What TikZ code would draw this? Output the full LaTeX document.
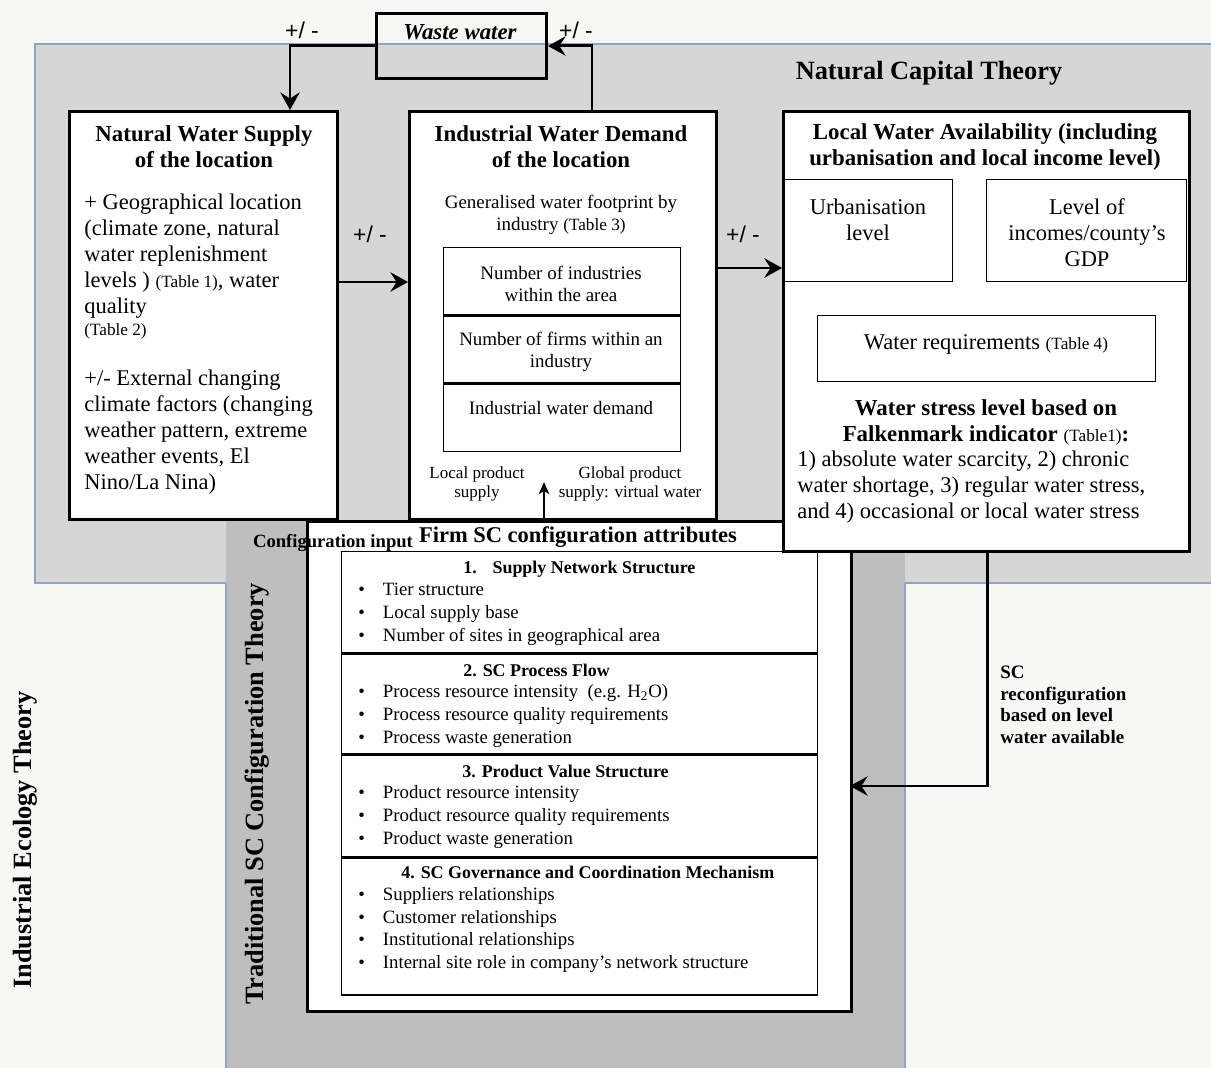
\documentclass[tikz,border=0pt]{standalone}
\usepackage{fontspec}
\setmainfont{Liberation Serif}
\newfontfamily\signfont{Liberation Sans}
\usetikzlibrary{arrows.meta}

\definecolor{pagebg}{HTML}{F7F7F5}
\definecolor{capgrey}{HTML}{D6D6D6}
\definecolor{scgrey}{HTML}{BEBEBE}
\definecolor{edgeblue}{HTML}{8DA5C9}

\newcommand{\tabref}[1]{{\fontsize{9.8}{11}\selectfont(#1)}}
\newcommand{\itm}{\makebox[14pt][l]{\textbullet}}

\tikzset{
  bigbox/.style={draw, line width=1.7pt, fill=white, inner sep=0pt, anchor=north west},
  cellbox/.style={draw, line width=0.8pt, inner sep=0pt, anchor=north west},
  conn/.style={line width=1.7pt, -{Stealth[length=10pt,width=11pt,inset=3.5pt]}},
  cfgconn/.style={line width=1.1pt, -{Stealth[length=7pt,width=6pt,inset=2pt]}},
  headtxt/.style={font=\bfseries\fontsize{13}{14.7}\selectfont, align=center, inner sep=0pt},
  bodytxt/.style={font=\fontsize{12.8}{14.7}\selectfont, align=left, inner sep=0pt},
  celltxt/.style={font=\fontsize{10.8}{12.5}\selectfont, align=center, inner sep=0pt},
  notetxt/.style={font=\fontsize{9.7}{10.8}\selectfont, align=center, inner sep=0pt},
  sectxt/.style={font=\bfseries\fontsize{10.2}{12}\selectfont, anchor=west, inner sep=0pt},
  itemtxt/.style={font=\fontsize{10.7}{13}\selectfont, align=left, anchor=west, inner sep=0pt},
  signtxt/.style={font=\signfont\fontsize{13}{14}\selectfont, inner sep=0pt},
  theorytxt/.style={font=\bfseries\fontsize{15}{17}\selectfont, inner sep=0pt}
}

\begin{document}
\begin{tikzpicture}[x=0.02cm, y=-0.02cm]
\useasboundingbox (0,0) rectangle (1211,1068);
\fill[pagebg] (0,0) rectangle (1211,1068);

% theory areas
\fill[capgrey] (35,44) rectangle (1211,583);
\draw[edgeblue, line width=0.6pt] (1211,44) -- (35,44) -- (35,583) -- (1211,583);
\fill[scgrey] (226,520) rectangle (905,1068);
\draw[edgeblue, line width=0.6pt] (226,583) -- (226,1068) (905,583) -- (905,1068);
\node[theorytxt] (capital) at (929,73) {Natural Capital Theory};
\node[theorytxt, rotate=90] (ecology) at (25,840) {Industrial Ecology Theory};
\node[theorytxt, rotate=90] (tradsc) at (257,794) {Traditional SC Configuration Theory};

% main boxes
\node[bigbox, fill=none, minimum width=3.4cm, minimum height=1.3cm] (waste) at (375,12) {};
\node[bigbox, minimum width=5.36cm, minimum height=8.16cm] (nws) at (68,110) {};
\node[bigbox, minimum width=6.14cm, minimum height=8.16cm] (iwd) at (408,110) {};
\node[bigbox, minimum width=10.88cm, minimum height=9.8cm] (firm) at (306,520) {};
\node[bigbox, minimum width=8.12cm, minimum height=8.8cm] (lwa) at (782,110) {};

\node[font=\bfseries\itshape\fontsize{13}{14}\selectfont] (wastetxt) at (460,32) {Waste water};

% natural water supply
\node[headtxt] (nwstitle) at (204,147) {Natural Water Supply\\of the location};
\node[bodytxt, anchor=west] (nwsgeo) at (84,256) {+ Geographical location\\(climate zone, natural\\water replenishment\\levels ) \tabref{Table 1}, water\\quality};
\node[bodytxt, anchor=west] (nwstab) at (84,331) {\tabref{Table 2}};
\node[bodytxt, anchor=west] (nwsext) at (84,432) {+/- External changing\\climate factors (changing\\weather pattern, extreme\\weather events, El\\Nino/La Nina)};

% industrial water demand
\node[headtxt] (iwdtitle) at (561,147) {Industrial Water Demand\\of the location};
\node[celltxt] (footprint) at (561,215) {Generalised water footprint by\\industry {\fontsize{9.8}{11}\selectfont(Table 3)}};
\node[cellbox, minimum width=4.74cm, minimum height=1.34cm] (cellA) at (443,247) {};
\node[cellbox, minimum width=4.74cm, minimum height=1.34cm] (cellB) at (cellA.south west) {};
\node[cellbox, minimum width=4.74cm, minimum height=1.34cm] (cellC) at (cellB.south west) {};
\node[celltxt] (cellAtxt) at (561,284) {Number of industries\\within the area};
\node[celltxt] (cellBtxt) at (561,352) {Number of firms within an\\industry};
\node[celltxt] (cellCtxt) at (561,408) {Industrial water demand};
\node[notetxt] (localsup) at (477,484) {Local product\\supply};
\node[notetxt] (globalsup) at (630,484) {Global product\\supply: virtual water};

% local water availability
\node[headtxt] (lwatitle) at (985,147) {Local Water Availability (including\\urbanisation and local income level)};
\node[cellbox, minimum width=3.36cm, minimum height=2.04cm] (urban) at (784,179) {};
\node[cellbox, minimum width=4.0cm, minimum height=2.04cm] (income) at (986,179) {};
\node[bodytxt, align=center] (urbantxt) at (868,220) {Urbanisation\\level};
\node[bodytxt, align=center] (incometxt) at (1087,233) {Level of\\incomes/county's\\GDP};
\node[cellbox, minimum width=6.76cm, minimum height=1.32cm] (require) at (817,315) {};
\node[bodytxt] (requiretxt) at (986,344) {Water requirements \tabref{Table 4}};
\node[headtxt] (stress) at (986,422) {Water stress level based on\\Falkenmark indicator {\mdseries\tabref{Table1}}:};
\node[bodytxt, anchor=west] (stresslist) at (797,487) {1) absolute water scarcity, 2) chronic\\water shortage, 3) regular water stress,\\and 4) occasional or local water stress};

% firm SC configuration
\node[font=\bfseries\fontsize{12.8}{14}\selectfont, inner sep=0pt] (firmtitle) at (578,537) {Firm SC configuration attributes};
\node[font=\bfseries\fontsize{10.6}{12}\selectfont, inner sep=0pt] (cfgtxt) at (333,543) {Configuration input};
\node[cellbox, minimum width=9.52cm, minimum height=2.02cm] (secA) at (341,551) {};
\node[cellbox, minimum width=9.52cm, minimum height=2.0cm] (secB) at (secA.south west) {};
\node[cellbox, minimum width=9.52cm, minimum height=2.02cm] (secC) at (secB.south west) {};
\node[cellbox, minimum width=9.52cm, minimum height=2.74cm] (secD) at (secC.south west) {};
\node[sectxt] (secAhead) at (463,569) {1.\hspace{9pt}Supply Network Structure};
\node[itemtxt] (secAlist) at (358,614) {\itm Tier structure\\\itm Local supply base\\\itm Number of sites in geographical area};
\node[sectxt] (secBhead) at (463,670) {2. SC Process Flow};
\node[itemtxt] (secBlist) at (358,716) {\itm Process resource intensity\ \ (e.g. H\textsubscript{2}O)\\\itm Process resource quality requirements\\\itm Process waste generation};
\node[sectxt] (secChead) at (462,771) {3. Product Value Structure};
\node[itemtxt] (secClist) at (358,817) {\itm Product resource intensity\\\itm Product resource quality requirements\\\itm Product waste generation};
\node[sectxt] (secDhead) at (401,872) {4. SC Governance and Coordination Mechanism};
\node[itemtxt] (secDlist) at (358,930) {\itm Suppliers relationships\\\itm Customer relationships\\\itm Institutional relationships\\\itm Internal site role in company's network structure};

% connectors
\coordinate (nwsin) at (290,110);
\draw[conn] (waste.west) -| (nwsin);
\coordinate (iwdout) at (592,110);
\draw[conn] (iwdout) |- (waste.east);
\coordinate (nwsout) at (336,282);
\draw[conn] (nwsout) -- (nwsout -| iwd.west);
\coordinate (iwdright) at (715,268);
\draw[conn] (iwdright) -- (iwdright -| lwa.west);
\coordinate (lwaout) at (987,550);
\coordinate (firmin) at (850,786);
\draw[conn] (lwaout) |- (firmin);
\coordinate (cfgtip) at (544,482);
\draw[cfgconn] (cfgtip |- firm.north) -- (cfgtip);

\node[signtxt] (signA) at (302,30) {+/ -};
\node[signtxt] (signB) at (576,30) {+/ -};
\node[signtxt] (signC) at (370,234) {+/ -};
\node[signtxt] (signD) at (743,234) {+/ -};
\node[font=\bfseries\fontsize{10.8}{12.3}\selectfont, align=left, anchor=west, inner sep=0pt] (reconfig) at (1000,705) {SC\\reconfiguration\\based on level\\water available};
\end{tikzpicture}
\end{document}
